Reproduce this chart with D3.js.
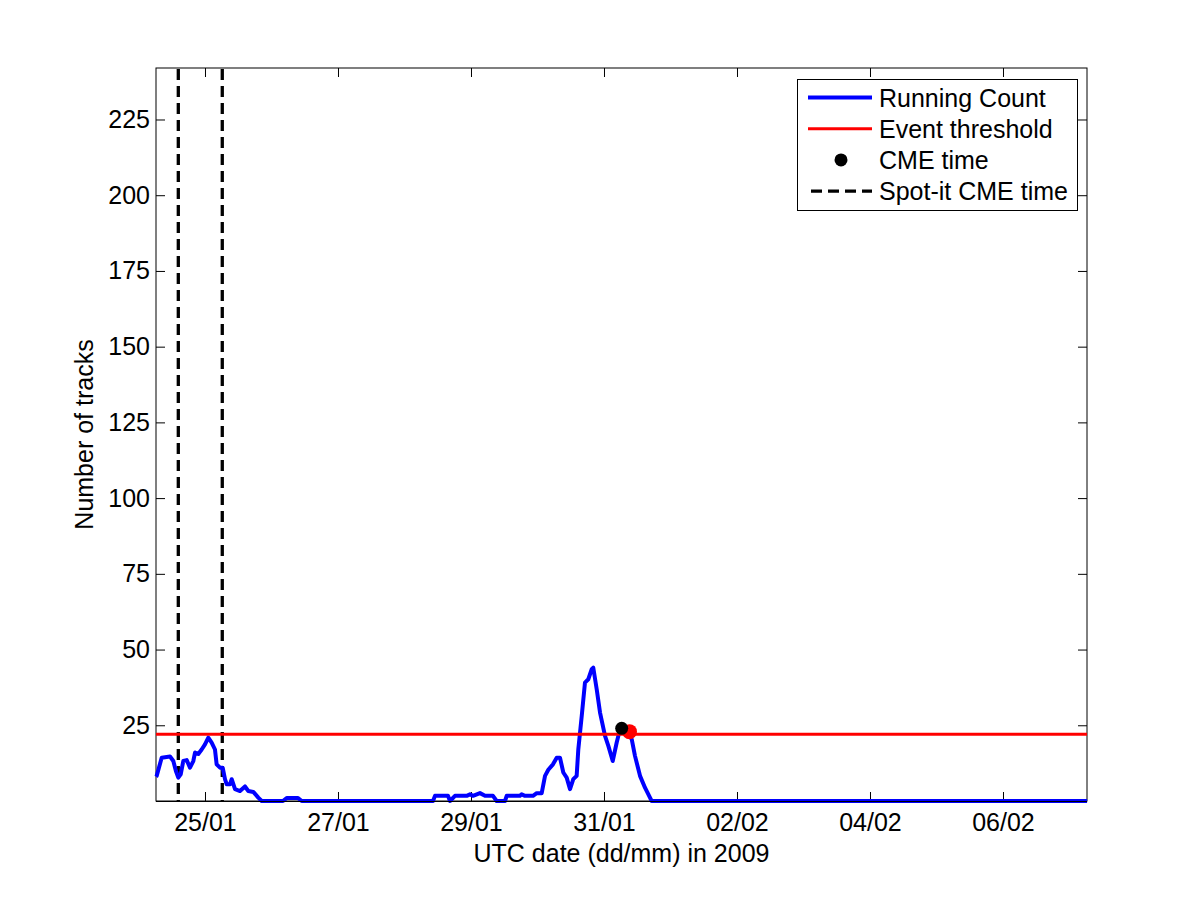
<!DOCTYPE html>
<html>
<head>
<meta charset="utf-8">
<script src="https://cdn.jsdelivr.net/npm/d3@7"></script>
<style>
  body { margin: 0; background: #fff; }
  svg text { font-family: "Liberation Sans", Arial, sans-serif; fill: #000; }
</style>
</head>
<body>
<svg width="1201" height="901"></svg>
<script>
// running count (time, number of tracks)
const countTimes = [
  "2009-01-24T06:20", "2009-01-24T06:34", "2009-01-24T08:22", "2009-01-24T11:22", "2009-01-24T12:34",
  "2009-01-24T13:30", "2009-01-24T14:22", "2009-01-24T15:14", "2009-01-24T16:10", "2009-01-24T17:24",
  "2009-01-24T18:35", "2009-01-24T19:47", "2009-01-24T20:24", "2009-01-24T21:35", "2009-01-24T22:48",
  "2009-01-25T00:00", "2009-01-25T01:12", "2009-01-25T02:24", "2009-01-25T03:36", "2009-01-25T04:12",
  "2009-01-25T05:25", "2009-01-25T06:23", "2009-01-25T07:13", "2009-01-25T07:50", "2009-01-25T09:01",
  "2009-01-25T09:38", "2009-01-25T10:50", "2009-01-25T12:38", "2009-01-25T14:26", "2009-01-25T15:38",
  "2009-01-25T17:26", "2009-01-25T19:14", "2009-01-25T20:28", "2009-01-26T04:09", "2009-01-26T05:29",
  "2009-01-26T09:34", "2009-01-26T10:54", "2009-01-28T10:17", "2009-01-28T11:00", "2009-01-28T15:41",
  "2009-01-28T16:25", "2009-01-28T18:13", "2009-01-28T22:26", "2009-01-28T23:38", "2009-01-29T00:43",
  "2009-01-29T03:14", "2009-01-29T05:03", "2009-01-29T07:56", "2009-01-29T09:16", "2009-01-29T12:16",
  "2009-01-29T12:53", "2009-01-29T17:41", "2009-01-29T18:17", "2009-01-29T19:29", "2009-01-29T22:23",
  "2009-01-29T23:43", "2009-01-30T01:31", "2009-01-30T02:43", "2009-01-30T03:54", "2009-01-30T05:35",
  "2009-01-30T06:56", "2009-01-30T08:07", "2009-01-30T09:19", "2009-01-30T10:32", "2009-01-30T11:44",
  "2009-01-30T12:55", "2009-01-30T14:08", "2009-01-30T14:44", "2009-01-30T15:58", "2009-01-30T17:08",
  "2009-01-30T18:20", "2009-01-30T19:34", "2009-01-30T20:08", "2009-01-30T21:22", "2009-01-30T22:34",
  "2009-01-31T00:22", "2009-01-31T01:34", "2009-01-31T03:09", "2009-01-31T04:35", "2009-01-31T05:47",
  "2009-01-31T08:11", "2009-01-31T10:00", "2009-01-31T11:11", "2009-01-31T13:00", "2009-01-31T14:48",
  "2009-01-31T16:36", "2009-01-31T17:12", "2009-02-07T06:20"
]
const countValues = [
  8, 8.3, 14.3, 14.7, 13.2,
  9.9, 7.7, 8.8, 13.2, 13.5,
  11, 13.2, 16, 15.5, 17,
  18.7, 20.9, 19.3, 17, 12.1,
  11, 11, 7.2, 5.5, 5.5,
  7.2, 3.9, 3.3, 4.8, 3.3,
  3, 1.1, 0, 0, 1,
  1, 0, 0, 1.7, 1.7,
  0, 1.7, 1.7, 2.2, 1.7,
  2.6, 1.7, 1.7, 0, 0,
  1.7, 1.7, 2.2, 1.7, 1.7,
  2.6, 2.6, 8.3, 10.3, 12.1,
  14.3, 14.3, 9.4, 7.7, 3.9,
  7.2, 8.3, 17.1, 28.1, 39.1,
  40.2, 43.5, 44, 36.9, 29.2,
  21.5, 18.2, 13.2, 19.3, 23.7,
  23.1, 20.4, 14.9, 8.3, 4.4,
  1.1, 0, 0
]
const threshold = 22
const cmeTime = ["2009-01-31T06:23", 24]
const eventTime = ["2009-01-31T09:12", 22.9]
const spotItTimes = ["2009-01-24T14:22", "2009-01-25T06:14"]
const xStart = "2009-01-24T06:19"
const xEnd = "2009-02-07T06:19"
const yTicks = [25, 50, 75, 100, 125, 150, 175, 200, 225]
const legendLabels = ["Running Count", "Event threshold", "CME time", "Spot-it CME time"]

const parse = d3.timeParse("%Y-%m-%dT%H:%M")
const data = countTimes.map((t, i) => ({ t: parse(t), v: countValues[i] }))

const svg = d3.select("svg")
const margin = { left: 156, right: 1087, top: 68, bottom: 801 }
const fontSize = 25

const x = d3.scaleTime()
    .domain([parse(xStart), parse(xEnd)])
    .range([margin.left, margin.right])
const y = d3.scaleLinear()
    .domain([0, 242])
    .range([margin.bottom, margin.top])

const xTickVals = d3.timeDay.every(1).range(parse(xStart), parse(xEnd))
    .filter(d => (d - new Date(2009, 0, 25)) / 864e5 % 2 === 0)
const fmt = d3.timeFormat("%d/%m")

// box
svg.append("rect")
    .attr("x", margin.left).attr("y", margin.top)
    .attr("width", margin.right - margin.left).attr("height", margin.bottom - margin.top)
    .attr("fill", "#fff").attr("stroke", "#000").attr("stroke-width", 1)

// ticks (inward, all four sides)
const tickLen = 9
svg.append("g").attr("transform", `translate(0,${margin.bottom})`)
    .call(d3.axisBottom(x).tickValues(xTickVals).tickFormat(fmt).tickSizeInner(-tickLen).tickSizeOuter(0).tickPadding(12))
svg.append("g").attr("transform", `translate(0,${margin.top})`)
    .call(d3.axisTop(x).tickValues(xTickVals).tickFormat("").tickSizeInner(-tickLen).tickSizeOuter(0))
svg.append("g").attr("transform", `translate(${margin.left},0)`)
    .call(d3.axisLeft(y).tickValues(yTicks).tickSizeInner(-tickLen).tickSizeOuter(0).tickPadding(6))
svg.append("g").attr("transform", `translate(${margin.right},0)`)
    .call(d3.axisRight(y).tickValues(yTicks).tickFormat("").tickSizeInner(-tickLen).tickSizeOuter(0))

svg.selectAll(".domain").remove()
svg.selectAll(".tick line").attr("stroke", "#000")
svg.selectAll(".tick text").attr("font-size", fontSize).attr("font-family", "Liberation Sans, Arial, sans-serif")

// spot-it dashed lines
svg.selectAll(".spot")
    .data(spotItTimes)
    .enter()
    .append("line")
    .attr("x1", d => x(parse(d))).attr("x2", d => x(parse(d)))
    .attr("y1", margin.top + 1).attr("y2", margin.bottom)
    .attr("stroke", "#000").attr("stroke-width", 3.3)
    .attr("stroke-dasharray", "11,6")

// running count
const line = d3.line().x(d => x(d.t)).y(d => y(d.v))
svg.append("path")
    .datum(data)
    .attr("fill", "none")
    .attr("stroke", "#0000ff")
    .attr("stroke-width", 4)
    .attr("stroke-linejoin", "round")
    .attr("d", line)

// threshold
svg.append("line")
    .attr("x1", margin.left).attr("x2", margin.right)
    .attr("y1", y(threshold)).attr("y2", y(threshold))
    .attr("stroke", "#ff0000").attr("stroke-width", 3)

// event + CME markers
svg.append("circle")
    .attr("cx", x(parse(eventTime[0]))).attr("cy", y(eventTime[1]))
    .attr("r", 7.5).attr("fill", "#ff0000")
svg.append("circle")
    .attr("cx", x(parse(cmeTime[0]))).attr("cy", y(cmeTime[1]))
    .attr("r", 6.5).attr("fill", "#000")

// bottom box line on top of curve
svg.append("line")
    .attr("x1", margin.left).attr("x2", margin.right)
    .attr("y1", margin.bottom + 0.5).attr("y2", margin.bottom + 0.5)
    .attr("stroke", "#000")

// axis labels
svg.append("text")
    .attr("x", (margin.left + margin.right) / 2).attr("y", 862)
    .attr("text-anchor", "middle").attr("font-size", fontSize)
    .text("UTC date (dd/mm) in 2009")
svg.append("text")
    .attr("transform", `translate(93,${(margin.top + margin.bottom) / 2}) rotate(-90)`)
    .attr("text-anchor", "middle").attr("font-size", fontSize)
    .text("Number of tracks")

// legend
const lg = svg.append("g")
lg.append("rect")
    .attr("x", 797.5).attr("y", 79.5).attr("width", 280).attr("height", 131)
    .attr("fill", "#fff").attr("stroke", "#000")
const rows = lg.selectAll(".row")
    .data(legendLabels)
    .enter()
    .append("g")
    .attr("transform", (d, i) => `translate(0,${97.5 + i * 31.2})`)
rows.append("text")
    .attr("x", 879).attr("y", 0).attr("dy", "0.36em")
    .attr("font-size", fontSize)
    .text(d => d)
rows.filter((d, i) => i === 0).append("line")
    .attr("x1", 808).attr("x2", 872).attr("stroke", "#0000ff").attr("stroke-width", 4)
rows.filter((d, i) => i === 1).append("line")
    .attr("x1", 808).attr("x2", 872).attr("stroke", "#ff0000").attr("stroke-width", 3)
rows.filter((d, i) => i === 2).append("circle")
    .attr("cx", 841).attr("r", 6.5).attr("fill", "#000")
rows.filter((d, i) => i === 3).append("line")
    .attr("x1", 811).attr("x2", 872).attr("stroke", "#000").attr("stroke-width", 3.3)
    .attr("stroke-dasharray", "11,6")
</script>
</body>
</html>
